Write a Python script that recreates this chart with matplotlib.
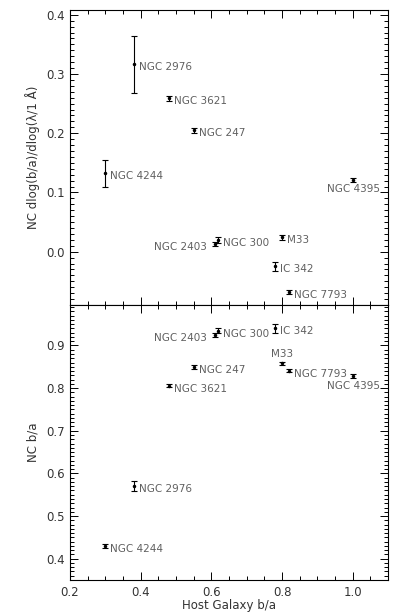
import numpy as np
import matplotlib.pyplot as plt
from matplotlib.ticker import MultipleLocator

# galaxies, host b/a, NC slope and NC b/a
names = ['NGC 2976', 'NGC 3621', 'NGC 247', 'NGC 4244', 'NGC 4395',
         'NGC 2403', 'NGC 300', 'M33', 'IC 342', 'NGC 7793']
host_ba = [0.38, 0.48, 0.55, 0.30, 1.00, 0.61, 0.62, 0.80, 0.78, 0.82]
slope = [0.316, 0.259, 0.205, 0.132, 0.121, 0.013, 0.020, 0.024, -0.025, -0.068]
slope_err = [0.048, 0.004, 0.004, 0.022, 0.004, 0.004, 0.005, 0.004, 0.007, 0.004]
nc_ba = [0.570, 0.806, 0.850, 0.430, 0.828, 0.925, 0.935, 0.858, 0.940, 0.841]
nc_ba_err = [0.011, 0.004, 0.004, 0.004, 0.004, 0.004, 0.005, 0.004, 0.010, 0.004]

# label placement (pixel offsets, alignment) for each panel
lab_top = {'NGC 4395': (27, -9, 'right'), 'NGC 2403': (-8, -3, 'right')}
lab_bot = {'NGC 4395': (27, -10, 'right'), 'NGC 2403': (-8, -3, 'right'),
           'M33': (0, 9, 'center')}

txtcol = '#606060'
fig = plt.figure(figsize=(4.09, 6.14), dpi=100)
ax1 = fig.add_axes([0.171, 0.5033, 0.778, 0.4804])
ax2 = fig.add_axes([0.171, 0.0554, 0.778, 0.4479])


def draw(ax, y, yerr, offs):
    ax.errorbar(host_ba, y, yerr=yerr, fmt='o', ms=1.5, color='black',
                ecolor='black', elinewidth=0.8, capsize=2, capthick=0.8)
    for i, nm in enumerate(names):
        dx, dy, ha = offs.get(nm, (5, -3, 'left'))
        ax.annotate(nm, (host_ba[i], y[i]), xytext=(dx, dy),
                    textcoords='offset pixels', ha=ha, va='center',
                    fontsize=7.5, color=txtcol)
    ax.set_xlim(0.2, 1.1)
    ax.xaxis.set_major_locator(MultipleLocator(0.2))
    ax.xaxis.set_minor_locator(MultipleLocator(0.05))
    ax.yaxis.set_minor_locator(MultipleLocator(0.01))
    ax.tick_params(which='both', direction='in', top=True, right=True,
                   width=0.7, labelsize=8.5, labelcolor='#333333')
    ax.tick_params(which='major', length=6)
    ax.tick_params(which='minor', length=3)
    ax.tick_params(axis='x', pad=4.5)
    ax.tick_params(axis='y', pad=4)
    for s in ax.spines.values():
        s.set_linewidth(0.8)


draw(ax1, slope, slope_err, lab_top)
ax1.set_ylim(-0.09, 0.408)
ax1.set_yticks([0.0, 0.1, 0.2, 0.3, 0.4])
ax1.set_yticklabels(['0.0', '0.1', '0.2', '0.3', '0.4'])
ax1.tick_params(labelbottom=False)
ax1.set_ylabel('NC dlog(b/a)/dlog(λ/1 Å)', fontsize=8.5, color='#333333')

draw(ax2, nc_ba, nc_ba_err, lab_bot)
ax2.set_ylim(0.35, 0.995)
ax2.yaxis.set_major_locator(MultipleLocator(0.1))
ax2.set_xticks([0.2, 0.4, 0.6, 0.8, 1.0])
ax2.set_ylabel('NC b/a', fontsize=8.5, color='#333333')
ax2.set_xlabel('Host Galaxy b/a', fontsize=8.5, color='#333333', labelpad=0)

ax1.yaxis.set_label_coords(-0.095, 0.5)
ax2.yaxis.set_label_coords(-0.095, 0.5)

fig.savefig('out.png', dpi=100)
